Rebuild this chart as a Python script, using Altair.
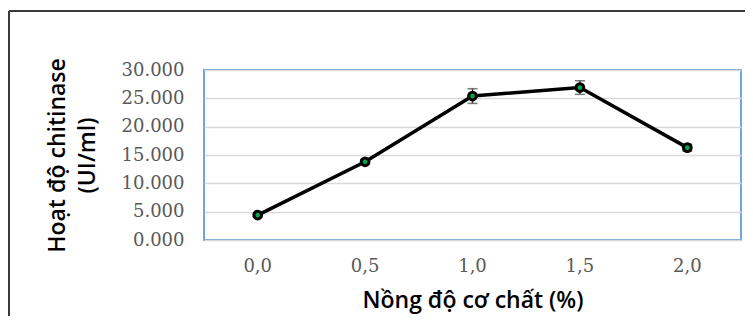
import altair as alt
import pandas as pd

categories = ["0,0", "0,5", "1,0", "1,5", "2,0"]
activity = [4.4, 13.8, 25.4, 26.9, 16.3]
errors = [0.3, 0.4, 1.3, 1.2, 0.6]
y_ticks = [0, 5, 10, 15, 20, 25, 30]

df = pd.DataFrame({"cat": categories, "val": activity, "err": errors})
df["lo"] = df["val"] - df["err"]
df["hi"] = df["val"] + df["err"]

x_axis = alt.Axis(title="Nồng độ cơ chất (%)", labelAngle=0, ticks=False, domain=False,
                  labelFont="DejaVu Serif", labelFontSize=18, labelColor="#595959",
                  labelPadding=17, labelOverlap=False,
                  titleFont="Open Sans", titleFontSize=23, titleFontWeight=600,
                  titleColor="#000000", titlePadding=14)
y_axis = alt.Axis(values=y_ticks, format=".3f", ticks=False, domain=False,
                  grid=True, gridColor="#D9D9D9", gridWidth=1.5,
                  labelFont="DejaVu Serif", labelFontSize=18, labelColor="#595959",
                  labelPadding=20, labelOverlap=False, labelBound=False, labelFlush=False,
                  title=["Hoạt độ  chitinase", "(UI/ml)"], titleFont="Open Sans",
                  titleFontSize=23, titleFontWeight=600, titleColor="#000000",
                  titleLineHeight=30, titlePadding=22)
x_scale = alt.Scale(domain=categories, paddingInner=0, paddingOuter=0)
y_scale = alt.Scale(domain=[0, 30], nice=False, zero=True)

def X():
    return alt.X("cat:N", sort=categories, scale=x_scale, axis=x_axis)

def Y(field):
    return alt.Y(f"{field}:Q", scale=y_scale, axis=y_axis)

base = alt.Chart(df)

line = base.mark_line(color="#000000", strokeWidth=3.5).encode(x=X(), y=Y("val"))
err_rule = base.mark_rule(color="#404040", strokeWidth=1.5).encode(x=X(), y=Y("lo"), y2="hi:Q")
cap_lo = base.mark_tick(color="#404040", thickness=1.5, size=10, orient="horizontal").encode(
    x=X(), y=Y("lo"))
cap_hi = base.mark_tick(color="#404040", thickness=1.5, size=10, orient="horizontal").encode(
    x=X(), y=Y("hi"))
pts = base.mark_point(filled=True, fill="#00A651", stroke="#000000", strokeWidth=3,
                      size=60, opacity=1, shape="circle").encode(x=X(), y=Y("val"))

frame_left = alt.Chart(pd.DataFrame({"k": [0]})).mark_rule(color="#3a3a3a", strokeWidth=2).encode(
    x=alt.value(-195), y=alt.value(-59), y2=alt.value(250))
frame_top = alt.Chart(pd.DataFrame({"k": [0]})).mark_rule(color="#3a3a3a", strokeWidth=2).encode(
    x=alt.value(-195), x2=alt.value(545), y=alt.value(-59))

chart = alt.layer(line, err_rule, cap_lo, cap_hi, pts, frame_left, frame_top).properties(
    width=537, height=170,
    autosize=alt.AutoSizeParams(type="none"),
    padding={"left": 196, "top": 62, "right": 4, "bottom": 76},
    background="#ffffff",
).configure_view(stroke="#6FA4DC", strokeWidth=2)

chart.save("out.html", embed_options={"renderer": "svg", "actions": False})
